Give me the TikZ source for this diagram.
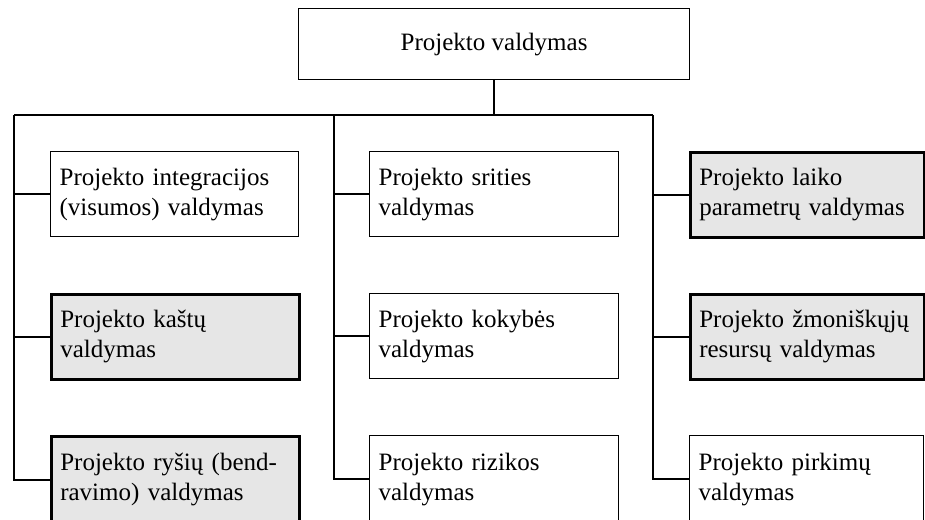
\documentclass[tikz,border=0pt]{standalone}
\usepackage{fontspec}
\setmainfont{Liberation Serif}
\definecolor{boxgrey}{RGB}{230,230,230}
\begin{document}
\begin{tikzpicture}[x=1pt,y=-1pt,
  every node/.style={font=\fontsize{25}{30}\selectfont},
  unit/.style={draw=black, line width=1.2pt, fill=white, anchor=north west,
    inner xsep=9pt, inner ysep=0pt, align=left, text width=#1-18pt,
    minimum height=85pt},
  keyunit/.style={unit=#1, line width=2.6pt, fill=boxgrey},
  link/.style={draw=black, line width=1.6pt}]
\useasboundingbox (0,0) rectangle (925,519);
\clip (0,0) rectangle (925,519);

% root
\node[draw=black, line width=1.2pt, anchor=north west, minimum width=391pt,
  minimum height=71pt, inner sep=0pt] (root) at (298,8) {Projekto valdymas};

% left column
\node[unit=248pt] (l1) at (50,151) {Projekto integracijos\\(visumos) valdymas};
\node[keyunit=248pt] (l2) at (50,293) {Projekto kaštų\\valdymas};
\node[keyunit=248pt, minimum height=87pt] (l3) at (50,435) {Projekto ryšių (bend-\\ravimo) valdymas};

% middle column
\node[unit=249pt] (m1) at (369,151) {Projekto srities\\valdymas};
\node[unit=249pt] (m2) at (369,293) {Projekto kokybės\\valdymas};
\node[unit=249pt, minimum height=87pt] (m3) at (369,435) {Projekto rizikos\\valdymas};

% right column
\node[keyunit=234pt] (r1) at (689,151) {Projekto laiko\\parametrų valdymas};
\node[keyunit=234pt] (r2) at (689,293) {Projekto žmoniškųjų\\resursų valdymas};
\node[unit=234pt, minimum height=87pt] (r3) at (689,435) {Projekto pirkimų\\valdymas};

% distribution bus
\coordinate (busL) at (14,115);
\coordinate (busM) at (334,115);
\coordinate (busR) at (653,115);
\draw[link] (root.south) -- (root.south |- busL);
\draw[link] (busL) -- (busR);

% column trunks with branches
\draw[link] (busL) |- (l3.west);
\draw[link] (busL |- l1.west) -- (l1.west);
\draw[link] (busL |- l2.west) -- (l2.west);

\draw[link] (busM) |- (m3.west);
\draw[link] (busM |- m1.west) -- (m1.west);
\draw[link] (busM |- m2.west) -- (m2.west);

\draw[link] (busR) |- (r3.west);
\draw[link] (busR |- r1.west) -- (r1.west);
\draw[link] (busR |- r2.west) -- (r2.west);
\end{tikzpicture}
\end{document}
